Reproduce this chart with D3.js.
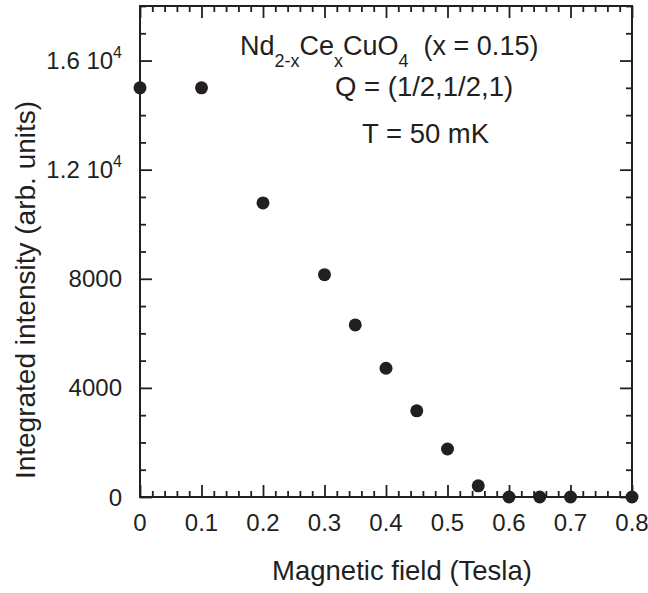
<!DOCTYPE html>
<html>
<head>
<meta charset="utf-8">
<script src="https://cdn.jsdelivr.net/npm/d3@7"></script>
<style>
  body { margin: 0; background: #fff; }
  text { font-family: "Liberation Sans", Arial, sans-serif; fill: #231f20; }
</style>
</head>
<body>
<div id="chart"></div>
<script>
// data
var field = [0, 0.1, 0.2, 0.3, 0.35, 0.4, 0.45, 0.5, 0.55, 0.6, 0.65, 0.7, 0.8];
var intensity = [15000, 15000, 10780, 8150, 6310, 4720, 3160, 1760, 410, 0, 0, 0, 0];

var xTicks = [0, 0.1, 0.2, 0.3, 0.4, 0.5, 0.6, 0.7, 0.8];
var xTickLabels = ["0", "0.1", "0.2", "0.3", "0.4", "0.5", "0.6", "0.7", "0.8"];
var yTicks = [0, 4000, 8000, 12000, 16000];
var yTickLabels = [["0", null], ["4000", null], ["8000", null], ["1.2 10", "4"], ["1.6 10", "4"]];

var width = 648, height = 593;
var margin = { top: 6, left: 140, right: 16, bottom: 96 };
var plotWidth = width - margin.left - margin.right;
var plotHeight = height - margin.top - margin.bottom;
var ink = "#231f20";

var svg = d3.select("#chart").append("svg")
  .attr("width", width)
  .attr("height", height);

var g = svg.append("g")
  .attr("transform", "translate(" + margin.left + "," + margin.top + ")");

var x = d3.scaleLinear().domain([0, 0.8]).range([0, plotWidth]);
var y = d3.scaleLinear().domain([0, 18000]).range([plotHeight, 0]);

var xMinor = d3.range(0, 41).map(function(i) { return i * 0.02; })
  .filter(function(v) { return Math.abs(v * 10 - Math.round(v * 10)) > 1e-6; });
var yMinor = d3.range(0, 19).map(function(i) { return i * 1000; })
  .filter(function(v) { return v % 4000 !== 0; });

// inward ticks on all four sides
function tickAxis(axisFn, scale, values, size, tr) {
  var a = g.append("g")
    .attr("transform", tr)
    .call(axisFn(scale).tickValues(values).tickSize(-size).tickFormat(""));
  a.select(".domain").remove();
  a.selectAll("line").attr("stroke", ink).attr("stroke-width", 1.8);
}

tickAxis(d3.axisBottom, x, xTicks, 12, "translate(0," + plotHeight + ")");
tickAxis(d3.axisBottom, x, xMinor, 6, "translate(0," + plotHeight + ")");
tickAxis(d3.axisTop, x, xTicks, 12, "translate(0,0)");
tickAxis(d3.axisTop, x, xMinor, 6, "translate(0,0)");
tickAxis(d3.axisLeft, y, yTicks, 12, "translate(0,0)");
tickAxis(d3.axisLeft, y, yMinor, 6, "translate(0,0)");
tickAxis(d3.axisRight, y, yTicks, 12, "translate(" + plotWidth + ",0)");
tickAxis(d3.axisRight, y, yMinor, 6, "translate(" + plotWidth + ",0)");

// frame
g.append("rect")
  .attr("width", plotWidth)
  .attr("height", plotHeight)
  .attr("fill", "none")
  .attr("stroke", ink)
  .attr("stroke-width", 2);

// tick labels
g.selectAll(".xlab")
  .data(xTicks)
  .enter()
  .append("text")
  .attr("x", function(d) { return x(d); })
  .attr("y", plotHeight + 34)
  .attr("text-anchor", "middle")
  .style("font-size", "24px")
  .text(function(d, i) { return xTickLabels[i]; });

var ylab = g.selectAll(".ylab")
  .data(yTicks)
  .enter()
  .append("text")
  .attr("x", -18)
  .attr("y", function(d) { return y(d) + 8.5; })
  .attr("text-anchor", "end")
  .style("font-size", "24px");
ylab.append("tspan").text(function(d, i) { return yTickLabels[i][0]; });
ylab.filter(function(d, i) { return yTickLabels[i][1]; })
  .append("tspan")
  .attr("dy", -11)
  .style("font-size", "16px")
  .text(function(d) { return yTickLabels[yTicks.indexOf(d)][1]; });

// points
g.selectAll("circle")
  .data(field)
  .enter()
  .append("circle")
  .attr("cx", function(d) { return x(d); })
  .attr("cy", function(d, i) { return y(intensity[i]); })
  .attr("r", 6.5)
  .attr("fill", ink);

// axis titles
svg.append("text")
  .attr("x", 402)
  .attr("y", 580)
  .attr("text-anchor", "middle")
  .style("font-size", "27.5px")
  .text("Magnetic field (Tesla)");

svg.append("text")
  .attr("transform", "translate(35,290) rotate(-90)")
  .attr("text-anchor", "middle")
  .style("font-size", "28px")
  .text("Integrated intensity (arb. units)");

// annotation
var t1 = svg.append("text")
  .attr("x", 240)
  .attr("y", 55)
  .style("font-size", "27px");
t1.append("tspan").text("Nd");
t1.append("tspan").attr("dy", 12).style("font-size", "18px").text("2-x");
t1.append("tspan").attr("dy", -12).text("Ce");
t1.append("tspan").attr("dy", 12).style("font-size", "18px").text("x");
t1.append("tspan").attr("dy", -12).text("CuO");
t1.append("tspan").attr("dy", 12).style("font-size", "18px").text("4");
t1.append("tspan").attr("dy", -12).attr("xml:space", "preserve").text("  (x = 0.15)");

svg.append("text")
  .attr("x", 335)
  .attr("y", 96)
  .style("font-size", "27.5px")
  .text("Q = (1/2,1/2,1)");

svg.append("text")
  .attr("x", 362)
  .attr("y", 143)
  .style("font-size", "27.5px")
  .text("T = 50 mK");
</script>
</body>
</html>
